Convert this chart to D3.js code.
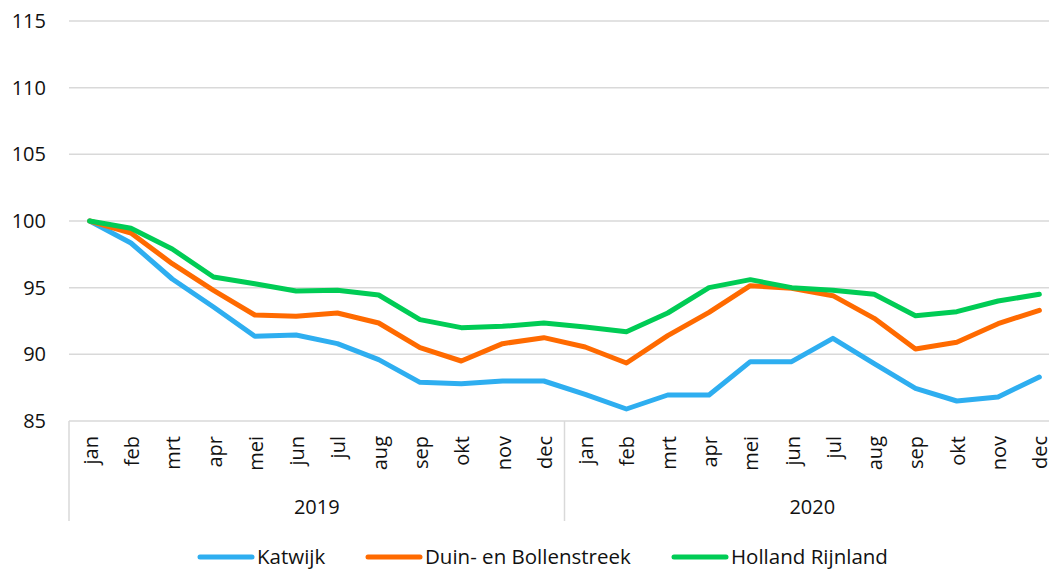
<!DOCTYPE html>
<html>
<head>
<meta charset="utf-8">
<script src="https://cdn.jsdelivr.net/npm/d3@7"></script>
<style>
body { margin: 0; background: #fff; }
svg { font-family: "Open Sans", "Noto Sans", sans-serif; fill: #111; }
</style>
</head>
<body>
<script>
// data
const months = ["jan","feb","mrt","apr","mei","jun","jul","aug","sep","okt","nov","dec"];
const years = ["2019", "2020"];
const katwijk = [100, 98.35, 95.65, 93.55, 91.35, 91.45, 90.8, 89.6, 87.9, 87.8, 88.0, 88.0,
  87.0, 85.9, 86.95, 86.95, 89.45, 89.45, 91.2, 89.3, 87.45, 86.5, 86.8, 88.3];
const duin = [100, 99.1, 96.8, 94.8, 92.95, 92.85, 93.1, 92.35, 90.5, 89.5, 90.8, 91.25,
  90.55, 89.35, 91.4, 93.15, 95.15, 94.95, 94.4, 92.7, 90.4, 90.9, 92.3, 93.3];
const holland = [100, 99.45, 97.9, 95.8, 95.3, 94.75, 94.8, 94.45, 92.6, 92.0, 92.1, 92.35,
  92.05, 91.7, 93.1, 95.0, 95.6, 95.0, 94.8, 94.5, 92.9, 93.2, 94.0, 94.5];
const yTicks = [85, 90, 95, 100, 105, 110, 115];

const series = [
  {name: "Katwijk", values: katwijk, color: "#2eaef0"},
  {name: "Duin- en Bollenstreek", values: duin, color: "#ff6a00"},
  {name: "Holland Rijnland", values: holland, color: "#00cc55"}
];

const W = 1049, H = 569;
const plotL = 69, plotR = 1060, plotT = 21, plotB = 421;

// category keys
const cats = [];
years.forEach(y => months.forEach(m => cats.push(y + "-" + m)));

const svg = d3.select("body").append("svg")
  .attr("width", W)
  .attr("height", H);

const x = d3.scaleBand().domain(cats).range([plotL, plotR]);
const y = d3.scaleLinear().domain([85, 115]).range([plotB, plotT]);

// gridlines
svg.append("g")
  .selectAll("line")
  .data(yTicks)
  .enter()
  .append("line")
  .attr("x1", plotL)
  .attr("x2", plotR)
  .attr("y1", d => y(d))
  .attr("y2", d => y(d))
  .attr("stroke", "#d9d9d9")
  .attr("stroke-width", 1.5)

// y labels
svg.append("g")
  .selectAll("text")
  .data(yTicks)
  .enter()
  .append("text")
  .attr("x", 46)
  .attr("y", d => y(d))
  .attr("dy", "0.35em")
  .attr("text-anchor", "end")
  .style("font-size", "20px")
  .text(d => d)

// group separators
const seps = [0, 12, 24].map(i => plotL + i * x.bandwidth());
svg.append("g")
  .selectAll("line")
  .data(seps)
  .enter()
  .append("line")
  .attr("x1", d => d)
  .attr("x2", d => d)
  .attr("y1", plotB)
  .attr("y2", 521)
  .attr("stroke", "#d9d9d9")
  .attr("stroke-width", 1.5)

// month labels, tops lined up under the axis
svg.append("g")
  .selectAll("text")
  .data(cats)
  .enter()
  .append("text")
  .attr("transform", d => `translate(${x(d) + x.bandwidth() / 2 + 1},436) rotate(-90)`)
  .attr("text-anchor", "end")
  .attr("dy", "0.35em")
  .style("font-size", "20px")
  .text(d => d.split("-")[1])

// year labels
svg.append("g")
  .selectAll("text")
  .data(years)
  .enter()
  .append("text")
  .attr("x", (d, i) => (seps[i] + seps[i + 1]) / 2)
  .attr("y", 507)
  .attr("dy", "0.35em")
  .attr("text-anchor", "middle")
  .style("font-size", "20px")
  .text(d => d)

// lines
const line = d3.line()
  .x((d, i) => x(cats[i]) + x.bandwidth() / 2)
  .y(d => y(d));

svg.append("g")
  .selectAll("path")
  .data(series)
  .enter()
  .append("path")
  .attr("d", d => line(d.values))
  .attr("fill", "none")
  .attr("stroke", d => d.color)
  .attr("stroke-width", 5)
  .attr("stroke-linejoin", "round")
  .attr("stroke-linecap", "round")

// legend
const legendX = [198, 366, 672];
const lg = svg.append("g")
  .selectAll("g")
  .data(series)
  .enter()
  .append("g")
  .attr("transform", (d, i) => `translate(${legendX[i]},557)`);

lg.append("line")
  .attr("x1", 2)
  .attr("x2", 54)
  .attr("stroke", d => d.color)
  .attr("stroke-width", 5)
  .attr("stroke-linecap", "round")

lg.append("text")
  .attr("x", 59)
  .attr("dy", "0.35em")
  .style("font-size", "20.5px")
  .text(d => d.name)
</script>
</body>
</html>
